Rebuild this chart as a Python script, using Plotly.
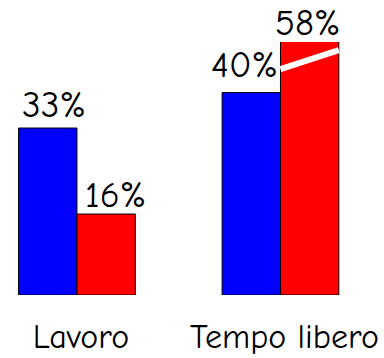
import plotly.graph_objects as go

# Share of time by activity, two survey series
categories = ["Lavoro", "Tempo libero"]
series_a = [33, 40]
series_b = [16, 58]
labels_a = ["33%", "40%"]
labels_b = ["16%", "58%"]

Y_MAX = 50          # visible ceiling; taller bars are cut with a break mark
BARGAP = 0.4265
FONT = "Comic Sans MS, Comic Neue, DejaVu Sans, sans-serif"

fig = go.Figure()
fig.add_trace(go.Bar(x=categories, y=series_a, marker=dict(color="#0000ff", line=dict(color="black", width=1))))
fig.add_trace(go.Bar(x=categories, y=series_b, marker=dict(color="#ff0000", line=dict(color="black", width=1))))

half = (1 - BARGAP) / 4  # offset of each bar centre from its category centre
# per-label nudges (x px, y px)
nudge_a = [(6, 0), (-7, 5)]
nudge_b = [(9, -4), (-2, -4)]

for i in range(len(categories)):
    for vals, labs, sign, nudge in ((series_a, labels_a, -1, nudge_a), (series_b, labels_b, 1, nudge_b)):
        fig.add_annotation(
            x=i + sign * half, y=min(vals[i], Y_MAX), xref="x", yref="y",
            text=labs[i], showarrow=False, xanchor="center", yanchor="bottom",
            xshift=nudge[i][0], yshift=nudge[i][1],
            font=dict(family=FONT, size=37, color="black"),
        )
    # break mark across any bar that runs past the ceiling
    if series_b[i] > Y_MAX:
        fig.add_shape(type="line", xref="x", yref="y",
                      x0=i, x1=i + 2 * half, y0=Y_MAX * 0.893, y1=Y_MAX * 0.968,
                      line=dict(color="white", width=6), layer="above")

fig.update_layout(
    width=384, height=358,
    margin=dict(l=0, r=0, t=42, b=63),
    barmode="group", bargap=BARGAP, bargroupgap=0,
    showlegend=False,
    plot_bgcolor="white", paper_bgcolor="white",
    font=dict(family=FONT, color="black"),
)
fig.update_xaxes(range=[-0.378, 1.5086], showgrid=False, zeroline=False, showline=False,
                 ticks="", tickfont=dict(size=34), ticklabelstandoff=18, ticklabelshift=4)
fig.update_yaxes(range=[0, Y_MAX], visible=False)

fig.write_html("out.html")
